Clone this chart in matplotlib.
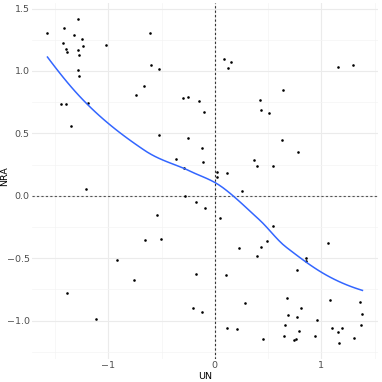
import numpy as np
import matplotlib
matplotlib.use("Agg")
import matplotlib.pyplot as plt

un = [-1.571, -1.418, -1.287, -1.424, -1.318, -1.243, -1.393, -1.387, -1.284, -1.234,
      -1.271, -1.018, -1.280, -1.275, -1.440, -1.396, -1.187, -1.352, -1.212, -0.612,
      -0.596, -0.528, -0.743, -0.662, -0.528, -0.366, -0.293, -0.296, -0.249, -0.148,
      -0.256, -0.281, -0.106, -0.125, -0.115, 0.088, 0.154, 0.128, 0.022, 0.019,
      0.110, 0.257, 0.372, 0.400, 0.550, 0.428, 0.431, 0.510, 0.644, 0.634,
      0.781, 1.153, 1.300, -0.174, -0.546, -0.659, -0.506, -0.921, -0.762, -0.178,
      -1.387, -1.118, -0.206, -0.090, 0.051, 0.550, 0.229, 0.431, 0.487, 0.394,
      0.857, 0.857, 0.775, 1.066, 0.107, -0.125, 0.281, 0.681, 0.806, 0.684,
      0.775, 0.656, 0.787, 0.650, 0.744, 0.759, 0.450, 0.116, 0.206, 0.937,
      0.960, 1.084, 1.097, 1.156, 1.197, 1.162, 1.306, 1.366, 1.385, 1.369]
nra = [1.302, 1.342, 1.414, 1.227, 1.288, 1.259, 1.179, 1.155, 1.166, 1.200,
       1.129, 1.208, 1.011, 0.958, 0.734, 0.739, 0.747, 0.563, 0.051, 1.302,
       1.046, 1.016, 0.811, 0.883, 0.488, 0.291, 0.224, 0.782, 0.792, 0.757,
       0.464, 0.000, 0.670, 0.379, 0.267, 1.099, 1.075, 1.024, 0.192, 0.147,
       0.179, 0.040, 0.283, 0.235, 0.235, 0.770, 0.691, 0.662, 0.848, 0.446,
       0.350, 1.032, 1.046, -0.050, -0.154, -0.357, -0.346, -0.514, -0.675, -0.629,
       -0.781, -0.984, -0.896, -0.096, -0.181, -0.240, -0.418, -0.413, -0.365, -0.482,
       -0.501, -0.525, -0.597, -0.381, -0.634, -0.928, -0.856, -0.821, -0.896, -0.957,
       -0.970, -1.032, -1.085, -1.120, -1.152, -1.146, -1.146, -1.058, -1.069, -1.125,
       -0.994, -0.834, -1.056, -1.088, -1.056, -1.178, -1.138, -0.850, -0.946, -1.037]

x = np.array(un)
y = np.array(nra)

SPAN = 0.75
CELL = 0.2


def local_fit(xs, ys, x0, span=SPAN):
    """Local quadratic fit with tricube weights; returns value and slope at x0."""
    n = len(xs)
    q = int(np.floor(n * span))
    d = np.abs(xs - x0)
    h = np.sort(d)[q - 1]
    w = np.clip(1 - (d / h) ** 3, 0, None) ** 3
    X = np.vstack([np.ones(n), xs - x0, (xs - x0) ** 2]).T
    W = np.sqrt(w)
    beta, *_ = np.linalg.lstsq(X * W[:, None], ys * W, rcond=None)
    return beta[0], beta[1]


def kd_vertices(xs, span=SPAN, cell=CELL):
    n = len(xs)
    fc = int(np.floor(n * span * cell))
    lo, hi = xs.min(), xs.max()
    mu = 0.005 * (hi - lo)
    verts = {lo - mu, hi + mu}

    def split(pts):
        if len(pts) <= fc:
            return
        s = np.sort(pts)
        m = (len(s) - 1) // 2
        t = (s[m] + s[m + 1]) / 2
        verts.add(t)
        split(s[s <= t])
        split(s[s > t])

    split(xs)
    return np.array(sorted(verts))


def loess_interp(xs, ys, grid):
    v = kd_vertices(xs)
    vals = np.array([local_fit(xs, ys, vv) for vv in v])
    f, df = vals[:, 0], vals[:, 1]
    out = []
    for g in grid:
        i = np.searchsorted(v, g) - 1
        i = min(max(i, 0), len(v) - 2)
        x0, x1 = v[i], v[i + 1]
        hgt = x1 - x0
        t = (g - x0) / hgt
        h00 = 2 * t**3 - 3 * t**2 + 1
        h10 = t**3 - 2 * t**2 + t
        h01 = -2 * t**3 + 3 * t**2
        h11 = t**3 - t**2
        out.append(h00 * f[i] + h10 * hgt * df[i] + h01 * f[i + 1] + h11 * hgt * df[i + 1])
    return np.array(out)


grid = np.linspace(x.min(), x.max(), 80)
fit = loess_interp(x, y, grid)

fig = plt.figure(figsize=(3.82, 3.82), dpi=100)
ax = fig.add_axes([0.083, 0.06, 0.907, 0.932])

xr = x.max() - x.min()
yr = y.max() - y.min()
ax.set_xlim(x.min() - 0.05 * xr, x.max() + 0.05 * xr)
ax.set_ylim(y.min() - 0.05 * yr, y.max() + 0.05 * yr)

ax.set_xticks([-1, 0, 1])
ax.set_xticklabels(["\u22121", "0", "1"])
ax.set_yticks([-1.0, -0.5, 0.0, 0.5, 1.0, 1.5])
ax.set_yticklabels(["\u22121.0", "\u22120.5", "0.0", "0.5", "1.0", "1.5"])
ax.set_xticks([-1.5, -0.5, 0.5, 1.5], minor=True)
ax.set_yticks([-1.25, -0.75, -0.25, 0.25, 0.75, 1.25], minor=True)

ax.grid(True, which="major", color="#EBEBEB", linewidth=0.8)
ax.grid(True, which="minor", color="#F4F4F4", linewidth=0.5)
ax.set_axisbelow(True)
for s in ax.spines.values():
    s.set_visible(False)
ax.tick_params(which="both", length=0, labelsize=6.8, colors="#4D4D4D")
ax.tick_params(axis="x", pad=1.5)
ax.tick_params(axis="y", pad=1.5)

ax.axvline(0, color="#333333", linestyle=(0, (2, 2)), linewidth=0.8, zorder=1)
ax.axhline(0, color="#555555", linestyle=(0, (2, 2)), linewidth=0.8, zorder=1)

ax.scatter(x, y, s=3.5, color="black", zorder=3, linewidths=0)
ax.plot(grid, fit, color="#3366FF", linewidth=1.1, zorder=4)

ax.set_xlabel("UN", fontsize=6.8, color="black")
ax.set_ylabel("NRA", fontsize=6.8, color="black")
ax.xaxis.set_label_coords(0.5, -0.035)
ax.yaxis.set_label_coords(-0.066, 0.515)

fig.savefig("out.png", dpi=100)
